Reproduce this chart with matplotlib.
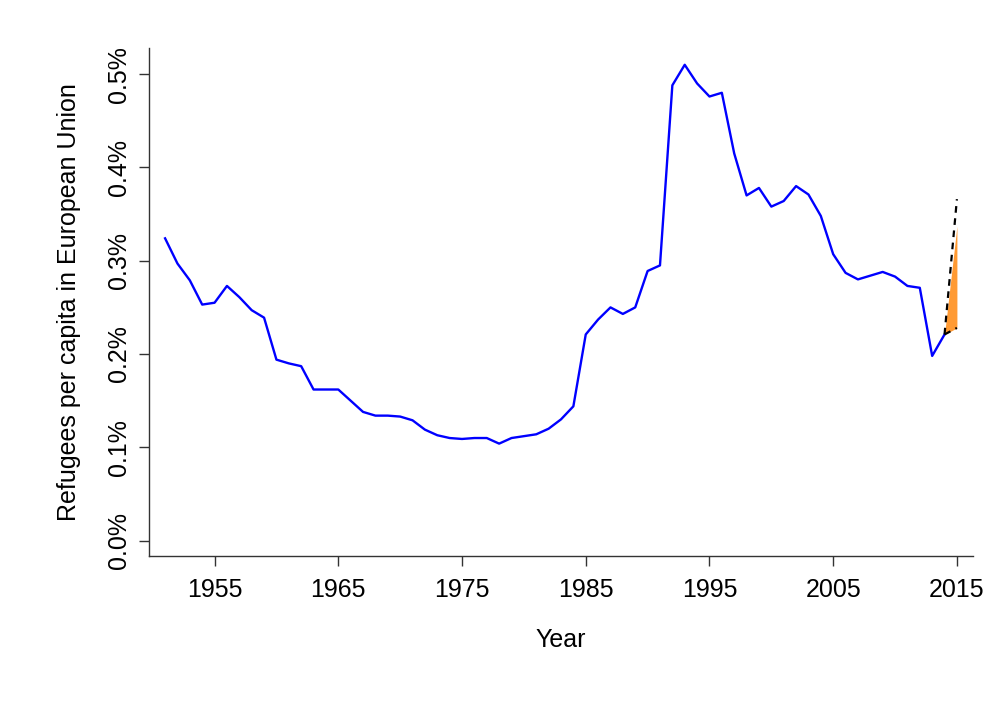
import matplotlib
matplotlib.use('Agg')
from matplotlib import pyplot as plt

plt.rcParams['font.family'] = ['Liberation Sans', 'DejaVu Sans']

# refugees per capita (%) in the EU, by year
years = list(range(1951, 2015))
share = [0.324, 0.297, 0.279, 0.253, 0.255, 0.273, 0.261, 0.247, 0.239, 0.194,
         0.190, 0.187, 0.162, 0.162, 0.162, 0.150, 0.138, 0.134, 0.134, 0.133,
         0.129, 0.119, 0.113, 0.110, 0.109, 0.110, 0.110, 0.104, 0.110, 0.112,
         0.114, 0.120, 0.130, 0.144, 0.221, 0.237, 0.250, 0.243, 0.250, 0.289,
         0.295, 0.488, 0.510, 0.490, 0.476, 0.480, 0.415, 0.370, 0.378, 0.358,
         0.364, 0.380, 0.371, 0.348, 0.307, 0.287, 0.280, 0.284, 0.288, 0.283,
         0.273, 0.271, 0.198, 0.221]

# 2015 projection
proj_years = [2014, 2015]
fill_low = [0.221, 0.228]
fill_high = [0.221, 0.337]
dash_low = [0.221, 0.228]
dash_high = [0.221, 0.366]

x_ticks = [1955, 1965, 1975, 1985, 1995, 2005, 2015]
y_ticks = [0.0, 0.1, 0.2, 0.3, 0.4, 0.5]

fig = plt.figure(figsize=(10, 7.28), dpi=100)
ax = fig.add_axes([0.149, 0.2363, 0.824, 0.6974])

ax.plot(years, share, color='#0000ff', lw=1.7)
ax.fill_between(proj_years, fill_low, fill_high, color='#ff9a33', lw=0)
ax.plot(proj_years, dash_high, color='black', lw=1.6, ls=(0, (3, 2.5)))
ax.plot(proj_years, dash_low, color='black', lw=1.6, ls=(0, (3, 2.5)))

ax.set_xlim(1949.7, 2016.3)
ax.set_ylim(-0.0164, 0.5277)

for s in ['top', 'right']:
    ax.spines[s].set_visible(False)
for s in ['left', 'bottom']:
    ax.spines[s].set_color('#333333')
    ax.spines[s].set_linewidth(1.0)

ax.set_xticks(x_ticks)
ax.set_xticklabels([str(y) for y in x_ticks])
ax.set_yticks(y_ticks)
ax.set_yticklabels(['{:.1f}%'.format(v) for v in y_ticks], rotation=90, va='center')
ax.tick_params(axis='both', direction='out', length=7, width=1, color='#333333',
               labelsize=18)
ax.tick_params(axis='x', pad=9)
ax.tick_params(axis='y', pad=6)

ax.set_xlabel('Year', fontsize=18, labelpad=18.5)
ax.set_ylabel('Refugees per capita in European Union', fontsize=18, labelpad=19)

plt.savefig('out.png', dpi=100)
